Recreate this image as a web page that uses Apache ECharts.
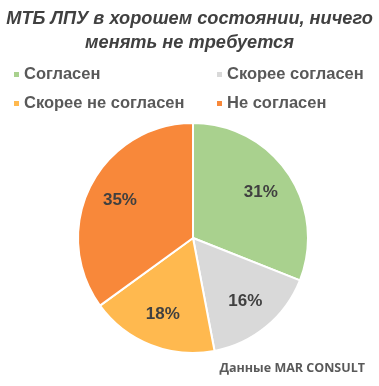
<!DOCTYPE html>
<html><head><meta charset="utf-8">
<script src="https://cdn.jsdelivr.net/npm/echarts@6/dist/echarts.min.js"></script>
<style>html,body{margin:0;padding:0;background:#fff}#c{width:379px;height:386px}</style>
</head><body><div id="c"></div>
<script>
var categories = ['Согласен', 'Скорее согласен', 'Скорее не согласен', 'Не согласен'];
var values = [31, 16, 18, 35];
var colors = ['#a9d18e', '#d9d9d9', '#ffb94f', '#f8883a'];
var titleText = 'МТБ ЛПУ в хорошем состоянии, ничего\nменять не требуется';
var sourceText = 'Данные MAR CONSULT';

var chart = echarts.init(document.getElementById('c'), null, {renderer: 'canvas'});
var data = categories.map(function (c, i) { return {name: c, value: values[i], itemStyle: {color: colors[i]}}; });
var legendPos = [[12, 66], [215, 66], [12, 95], [215, 95]];
var legends = categories.map(function (c, i) {
  return {
    data: [c], left: legendPos[i][0], top: legendPos[i][1], padding: 0,
    itemWidth: 7, itemHeight: 7, itemGap: 0, icon: 'rect', selectedMode: false,
    textStyle: {fontFamily: 'Liberation Sans', fontWeight: 'bold', fontSize: 16.5, color: '#595959', padding: [0, 0, 0, -1]}
  };
});
chart.setOption({
  animation: false,
  title: [{
    text: titleText, left: 'center', top: 2,
    textStyle: {fontFamily: 'Liberation Sans', fontStyle: 'italic', fontWeight: 'bold', fontSize: 18.2, color: '#404040', lineHeight: 24}
  }, {
    text: sourceText, right: 9, bottom: 6,
    textStyle: {fontFamily: 'Open Sans', fontWeight: 'bold', fontSize: 12.5, color: '#595959'}
  }],
  legend: legends,
  series: [{
    type: 'pie', center: [193, 238], radius: [0, 115], startAngle: 90, clockwise: true,
    data: data, label: {show: false}, labelLine: {show: false},
    itemStyle: {borderColor: '#fff', borderWidth: 2}, emphasis: {disabled: true}
  }, {
    type: 'pie', center: [193, 238], radius: [43, 115], startAngle: 90, clockwise: true, silent: true,
    data: data.map(function (d) { return {name: d.name, value: d.value, itemStyle: {color: 'rgba(0,0,0,0)'}}; }),
    label: {show: true, position: 'inside', formatter: '{c}%', fontFamily: 'Liberation Sans', fontWeight: 'bold', fontSize: 17, color: '#404040'},
    labelLine: {show: false}, emphasis: {disabled: true}, legendHoverLink: false
  }]
});
</script></body></html>
